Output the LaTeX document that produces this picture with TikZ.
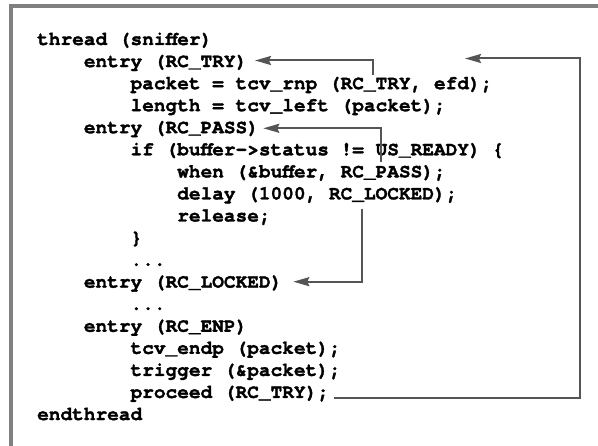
\documentclass[tikz,border=0pt]{standalone}
\usepackage{fontspec}
\setmonofont{TeX Gyre Cursor}[BoldFeatures={FakeBold=1.6}]
\usetikzlibrary{arrows.meta}
\definecolor{framegray}{RGB}{128,128,128}
\definecolor{arrowgray}{RGB}{85,85,85}
\newcommand\codefont{\fontsize{19.45}{22}\selectfont\ttfamily\bfseries}
\newlength\cw

\begin{document}
\settowidth{\cw}{\codefont M}%
\begin{tikzpicture}[x=1pt, y=-1pt,
  code/.style={anchor=base west, inner sep=0pt, font=\codefont},
  flow/.style={draw=arrowgray, line width=2pt, -{Stealth[length=16pt, width=9pt, inset=2pt]}}]
\useasboundingbox (0,0) rectangle (598,446);
\draw[framegray, line width=4pt] (598,6.5) -- (10.5,6.5) -- (10.5,446);
% code lines
\node[code] (thread) at (37,45) {thread (sniffer)};
\node[code, xshift=4\cw] (entrytry) at (37,67.06) {entry (RC\_TRY)};
\node[code, xshift=8\cw] (packet) at (37,89.12) {packet = tcv\_rnp (RC\_TRY, efd);};
\node[code, xshift=8\cw] (length) at (37,111.18) {length = tcv\_left (packet);};
\node[code, xshift=4\cw] (entrypass) at (37,133.24) {entry (RC\_PASS)};
\node[code, xshift=8\cw] (ifbuf) at (37,155.3) {if (buffer->status != US\_READY) \{};
\node[code, xshift=12\cw] (when) at (37,177.36) {when (\&buffer, RC\_PASS);};
\node[code, xshift=12\cw] (delay) at (37,199.42) {delay (1000, RC\_LOCKED);};
\node[code, xshift=12\cw] (release) at (37,221.48) {release;};
\node[code, xshift=8\cw] (closebr) at (37,243.54) {\}};
\node[code, xshift=8\cw] (dotsa) at (37,265.6) {...};
\node[code, xshift=4\cw] (entrylocked) at (37,287.66) {entry (RC\_LOCKED)};
\node[code, xshift=8\cw] (dotsb) at (37,309.72) {...};
\node[code, xshift=4\cw] (entryenp) at (37,331.78) {entry (RC\_ENP)};
\node[code, xshift=8\cw] (endp) at (37,353.84) {tcv\_endp (packet);};
\node[code, xshift=8\cw] (trigger) at (37,375.9) {trigger (\&packet);};
\node[code, xshift=8\cw] (proceed) at (37,397.96) {proceed (RC\_TRY);};
\node[code] (endthread) at (37,420.02) {endthread};
% arrow ends
\coordinate (trysrc) at ([xshift=21\cw-2.5pt, yshift=14pt]packet.base west);
\coordinate (trytip) at (255,60.5);
\coordinate (passsrc) at ([xshift=22\cw-6.5pt, yshift=-6.4pt]ifbuf.base west);
\coordinate (passtip) at (263.3,128.3);
\coordinate (lockedsrc) at ([xshift=16\cw-2pt, yshift=-9.6pt]delay.base west);
\coordinate (lockedtip) at (293.3,281.7);
\coordinate (procsrc) at (334,398.5);
\coordinate (loopcorner) at (580,58.5);
\coordinate (looptip) at (465,58.5);
\draw[flow] (trysrc) |- (trytip);
\draw[flow] (passsrc) |- (passtip);
\draw[flow] (lockedsrc) |- (lockedtip);
\draw[flow] (procsrc) -| (loopcorner) -- (looptip);
\end{tikzpicture}
\end{document}
